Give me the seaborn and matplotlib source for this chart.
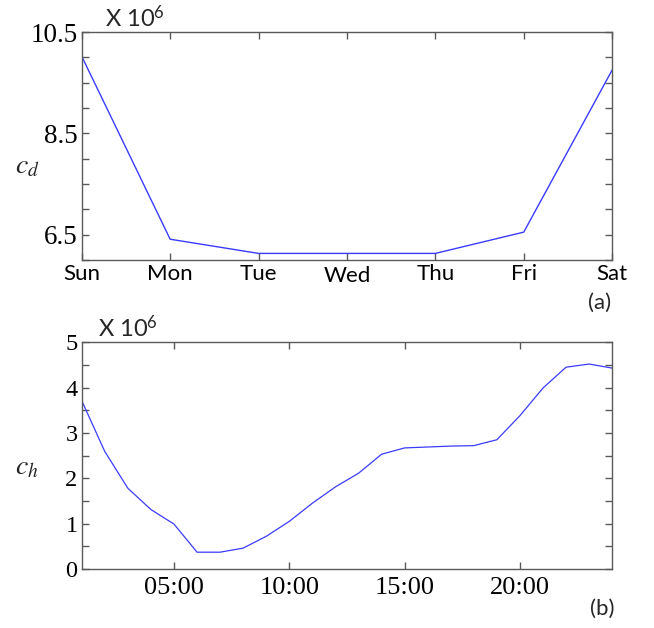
import matplotlib
matplotlib.use("Agg")
import matplotlib.pyplot as plt
import seaborn as sns
import pandas as pd
import numpy as np
from matplotlib.ticker import MultipleLocator

# ---- data ----
days = ["Sun", "Mon", "Tue", "Wed", "Thu", "Fri", "Sat"]
cd_values = [10.02, 6.41, 6.13, 6.13, 6.13, 6.55, 9.75]

hours = list(range(1, 25))
ch_values = [3.71, 2.59, 1.78, 1.31, 0.99, 0.37, 0.37, 0.46, 0.72, 1.05,
             1.45, 1.81, 2.11, 2.53, 2.67, 2.69, 2.71, 2.72, 2.85, 3.38,
             3.99, 4.45, 4.52, 4.43]
hour_ticks = [5, 10, 15, 20]
hour_labels = ["05:00", "10:00", "15:00", "20:00"]
cd_yticks = [6.5, 8.5, 10.5]
ch_yticks = [0, 1, 2, 3, 4, 5]

sns.set_theme(style="white")
plt.rcParams["mathtext.fontset"] = "custom"
plt.rcParams["mathtext.rm"] = "Lato"
plt.rcParams["mathtext.it"] = "Lato:italic"
plt.rcParams["mathtext.bf"] = "Lato:bold"

line_color = "#3b3bff"
spine_color = "#5a5a5a"
serif = "Liberation Serif"
sans = "Lato"

fig = plt.figure(figsize=(6.54, 6.28), dpi=100)
ax1 = fig.add_axes([0.125, 0.586, 0.811, 0.363])
ax2 = fig.add_axes([0.125, 0.094, 0.811, 0.361])

df1 = pd.DataFrame({"x": np.arange(len(days)), "y": cd_values})
sns.lineplot(data=df1, x="x", y="y", ax=ax1, color=line_color, linewidth=1.0)
df2 = pd.DataFrame({"x": hours, "y": ch_values})
sns.lineplot(data=df2, x="x", y="y", ax=ax2, color=line_color, linewidth=0.9)

for ax in (ax1, ax2):
    for s in ax.spines.values():
        s.set_visible(True)
        s.set_color(spine_color)
        s.set_linewidth(1.0)
    ax.tick_params(axis="both", which="both", direction="in", top=True, right=True,
                   bottom=True, left=True, color=spine_color, width=1.0,
                   labelcolor="black")
    ax.tick_params(which="major", length=5)
    ax.tick_params(which="minor", length=5)
    ax.set_xlabel("")
    ax.set_ylabel("")

# top panel
ax1.set_xlim(0, 6)
ax1.set_ylim(6.0, 10.5)
ax1.set_xticks(np.arange(len(days)))
ax1.set_xticklabels(days, fontfamily=sans, fontsize=16)
ax1.set_yticks(cd_yticks)
ax1.set_yticklabels([f"{v:.1f}" for v in cd_yticks], fontfamily=serif, fontsize=19.5)
ax1.yaxis.set_minor_locator(MultipleLocator(0.5))
ax1.tick_params(axis="x", pad=3)
ax1.tick_params(axis="y", pad=3)
lbls = ax1.get_xticklabels()
lbls[3].set_y(-0.008)
fig.text(0.041, 0.737, "$c_d$", fontsize=20, ha="center", va="center",
         math_fontfamily="stix")
fig.text(0.160, 0.972, "X 10$^6$", fontfamily=sans, fontsize=17,
         ha="left", va="center")
fig.text(0.917, 0.517, "(a)", fontfamily=sans, fontsize=16, ha="center", va="center")

# bottom panel
ax2.set_xlim(1, 24)
ax2.set_ylim(0, 5)
ax2.set_xticks(hour_ticks)
ax2.set_xticklabels(hour_labels, fontfamily=serif, fontsize=19)
ax2.set_yticks(ch_yticks)
ax2.set_yticklabels([str(v) for v in ch_yticks], fontfamily=serif, fontsize=17.5)
ax2.yaxis.set_minor_locator(MultipleLocator(0.5))
ax2.tick_params(axis="x", pad=6)
ax2.tick_params(axis="y", pad=3)
fig.text(0.041, 0.258, "$c_h$", fontsize=20, ha="center", va="center",
         math_fontfamily="stix")
fig.text(0.150, 0.479, "X 10$^6$", fontfamily=sans, fontsize=17,
         ha="left", va="center")
fig.text(0.921, 0.030, "(b)", fontfamily=sans, fontsize=16, ha="center", va="center")

fig.savefig("out.png", dpi=100, facecolor="white")
